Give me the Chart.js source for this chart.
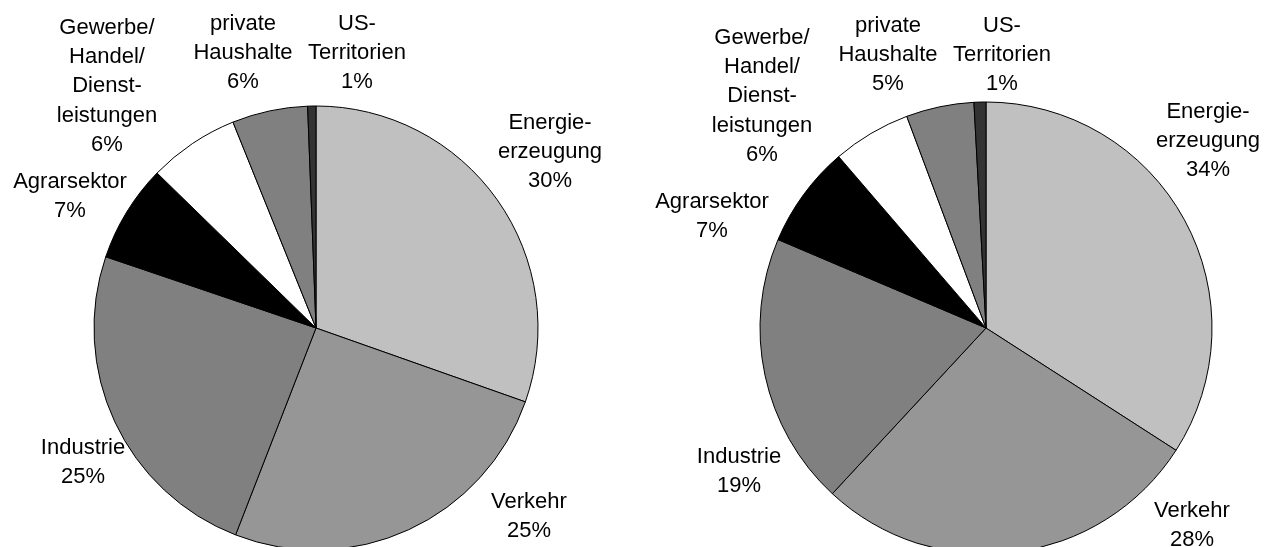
<!DOCTYPE html>
<html>
<head>
<meta charset="utf-8">
<script src="https://cdn.jsdelivr.net/npm/chart.js@4"></script>
<style>
  html, body { margin: 0; padding: 0; background: #fff; }
  #wrap { position: relative; width: 1266px; height: 547px; overflow: hidden; }
  .pie { position: absolute; top: 0; width: 633px; height: 547px; }
  #left { left: 0; }
  #right { left: 633px; }
</style>
</head>
<body>
<div id="wrap">
  <div class="pie" id="left"><canvas id="chart-left"></canvas></div>
  <div class="pie" id="right"><canvas id="chart-right"></canvas></div>
</div>
<script>
// Sectors, clockwise from 12 o'clock
const sectors = [
  ['Energie-', 'erzeugung'],
  ['Verkehr'],
  ['Industrie'],
  ['Agrarsektor'],
  ['Gewerbe/', 'Handel/', 'Dienst-', 'leistungen'],
  ['private', 'Haushalte'],
  ['US-', 'Territorien']
];

// Slice shares (percent)
const sharesLeft = [30.4, 25.5, 24.3, 7.1, 6.6, 5.5, 0.6];
const sharesRight = [34.1, 27.8, 19.5, 7.3, 5.6, 4.85, 0.85];

// Percent labels as printed
const percentLeft = ['30%', '25%', '25%', '7%', '6%', '6%', '1%'];
const percentRight = ['34%', '28%', '19%', '7%', '6%', '5%', '1%'];

const sliceColors = ['#c0c0c0', '#969696', '#808080', '#000000', '#ffffff', '#808080', '#333333'];

// Label placement (x centre, y of first line) within each canvas
const labelPosLeft = [[550, 123], [529, 502], [83, 448], [70, 182], [107, 28], [243, 24], [357, 24]];
const labelPosRight = [[575, 112], [559, 511], [106, 457], [79, 202], [129, 38], [255, 26], [369, 26]];

const LINE_HEIGHT = 29.2;

// Draws the multi-line category + percent labels
const sliceLabels = {
  id: 'sliceLabels',
  afterDraw(chart, args, opts) {
    const ctx = chart.ctx;
    ctx.save();
    ctx.font = '22px "Liberation Sans", Arial, sans-serif';
    ctx.fillStyle = '#000';
    ctx.textAlign = 'center';
    ctx.textBaseline = 'middle';
    sectors.forEach((lines, i) => {
      const [x, y] = opts.positions[i];
      const all = lines.concat([opts.percents[i]]);
      all.forEach((line, j) => {
        ctx.fillText(line, x, y + j * LINE_HEIGHT);
      });
    });
    ctx.restore();
  }
};

function makePie(canvasId, shares, percents, positions, radius, padLeft) {
  const ctx = document.getElementById(canvasId).getContext('2d');
  return new Chart(ctx, {
    type: 'pie',
    data: {
      labels: sectors.map(s => s.join(' ')),
      datasets: [{
        data: shares,
        backgroundColor: sliceColors,
        borderColor: '#000',
        borderWidth: 1,
        radius: radius,
        clip: false
      }]
    },
    options: {
      responsive: true,
      maintainAspectRatio: false,
      animation: false,
      layout: {
        padding: { top: 109, left: padLeft, right: padLeft === 0 ? 1 : 0, bottom: 0 }
      },
      plugins: {
        legend: { display: false },
        tooltip: { enabled: false },
        sliceLabels: { percents: percents, positions: positions }
      }
    },
    plugins: [sliceLabels]
  });
}

makePie('chart-left', sharesLeft, percentLeft, labelPosLeft, 222, 0);
makePie('chart-right', sharesRight, percentRight, labelPosRight, 226, 73);
</script>
</body>
</html>
